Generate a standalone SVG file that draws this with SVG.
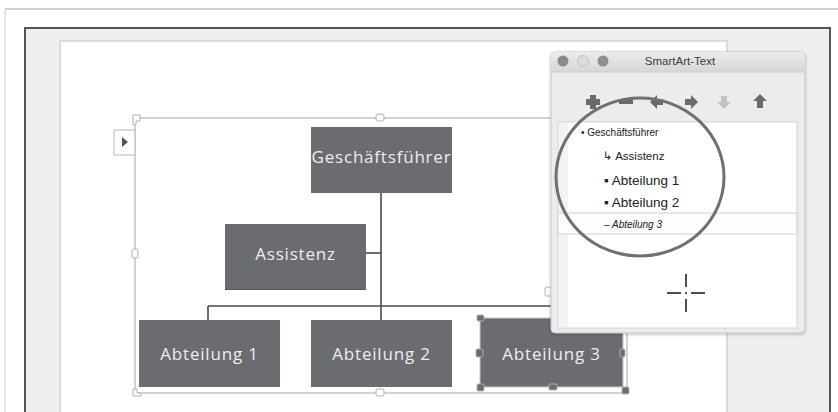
<svg xmlns="http://www.w3.org/2000/svg" width="838" height="412" viewBox="0 0 838 412">
<defs>
<style>
.node rect{fill:#6b6c70}
.node text{fill:#eeeeee;font-family:"Open Sans","Noto Sans",sans-serif;font-size:17px;letter-spacing:0.8px;text-anchor:middle;dominant-baseline:central}
.conn line{stroke:#4a4a4a;stroke-width:1.6}
.sel{fill:none;stroke:#c4c4c4;stroke-width:1.5}
.list{font-family:"Liberation Sans","DejaVu Sans",sans-serif;fill:#222}
.icon{fill:#6a6a6a}
</style>
<linearGradient id="tb" x1="0" y1="0" x2="0" y2="1">
<stop offset="0" stop-color="#ececec"/><stop offset="1" stop-color="#d6d6d6"/>
</linearGradient>
<filter id="sh" x="-5%" y="-5%" width="110%" height="110%"><feDropShadow dx="0" dy="1" stdDeviation="1.5" flood-color="#000" flood-opacity="0.25"/></filter>
</defs>
<rect width="838" height="412" fill="#ffffff"/>
<line x1="5" y1="9" x2="838" y2="9" stroke="#cfcfcf" stroke-width="2"/>
<line x1="5" y1="9" x2="5" y2="412" stroke="#dcdcdc" stroke-width="1.5"/>
<!-- app frame -->
<rect x="25" y="28" width="805" height="400" fill="#efefef" stroke="#555" stroke-width="2"/>
<rect x="60" y="41" width="667" height="380" fill="#ffffff" stroke="#d2d2d2" stroke-width="1.5"/>
<!-- smartart bounding box -->
<rect x="135" y="118" width="492" height="275" class="sel"/>
<g fill="#fff" stroke="#b0b0b0" stroke-width="1">
<path d="M133 115h7v6h-4v4h-3z"/>
<rect x="376" y="114" width="8" height="7" rx="2"/>
<rect x="132" y="249" width="6" height="9" rx="2"/>
<rect x="376" y="389" width="8" height="7" rx="2"/>
<path d="M133 396v-7h4v4h4v3z"/>
<rect x="545" y="287" width="7" height="9" rx="2"/>
</g>
<path d="M114 130h21v25h-21z" fill="#fff" stroke="#b8b8b8" stroke-width="1"/>
<path d="M122 137l6 5l-6 5z" fill="#555"/>
<!-- connectors -->
<g id="connectors" class="conn">
<line x1="381" y1="193" x2="381" y2="320"/>
<line x1="366" y1="253" x2="381" y2="253"/>
<line x1="208" y1="306" x2="553" y2="306"/>
<line x1="208" y1="306" x2="208" y2="320"/>
<line x1="553" y1="306" x2="553" y2="318"/>
</g>
<g id="n-gf" class="node"><rect x="311" y="127" width="141" height="66"/><text x="381.5" y="156">Geschäftsführer</text></g>
<g id="n-as" class="node"><rect x="225" y="224" width="141" height="66"/><line x1="225" y1="289.5" x2="366" y2="289.5" stroke="#555" stroke-width="1"/><text x="295.5" y="253">Assistenz</text></g>
<g id="n-a1" class="node"><rect x="139" y="320" width="141" height="67"/><text x="209.5" y="353">Abteilung 1</text></g>
<g id="n-a2" class="node"><rect x="311" y="320" width="141" height="67"/><text x="381.5" y="353">Abteilung 2</text></g>
<g id="n-a3" class="node"><rect x="480" y="318" width="143" height="69" stroke="#c8c8c8" stroke-width="1"/><text x="551.5" y="353" fill="#d8d8d8">Abteilung 3</text>
<g fill="#fff" stroke="#b0b0b0" stroke-width="1">
<rect x="477" y="315" width="7" height="6" rx="1.5"/>
<rect x="476" y="349" width="7" height="8" rx="1.5"/>
<rect x="477" y="384" width="7" height="7" rx="1.5"/>
<rect x="549" y="384" width="8" height="6" rx="1"/>
<rect x="620" y="349" width="5" height="8" rx="1.5"/>
<rect x="622" y="387" width="7" height="7" rx="1.5"/>
</g></g>
<!-- SmartArt text window -->
<g id="window" filter="url(#sh)">
<rect x="551" y="52" width="254" height="281" rx="4" fill="#ececec" stroke="#c6c6c6" stroke-width="1"/>
</g>
<path d="M551 72v-16a4 4 0 0 1 4-4h246a4 4 0 0 1 4 4v16z" fill="url(#tb)"/>
<line x1="551" y1="72" x2="805" y2="72" stroke="#cfcfcf"/>
<circle cx="563" cy="61" r="5.5" fill="#8a8a8a"/>
<circle cx="583" cy="61" r="5.5" fill="#dcdcdc" stroke="#c4c4c4"/>
<circle cx="603" cy="61" r="5.5" fill="#8f8f8f"/>
<text x="680" y="65" font-family="'Liberation Sans',sans-serif" font-size="11.5" fill="#3a3a3a" text-anchor="middle">SmartArt-Text</text>
<!-- toolbar icons -->
<path class="icon" d="M590 95h6v4h4v6h-4v4h-6v-4h-4v-6h4z"/>
<rect class="icon" x="619" y="99" width="14" height="5"/>
<path class="icon" d="M650 102l7-7v4h6v6h-6v4z"/>
<path class="icon" d="M698 102l-7-7v4h-6v6h6v4z"/>
<path d="M724 109l-7-7h4v-6h6v6h4z" fill="#c2c2c2"/>
<path class="icon" d="M760 94l7 7h-4v7h-6v-7h-4z"/>
<!-- list panel -->
<rect x="558" y="122" width="239" height="206" fill="#ffffff" stroke="#d4d4d4"/>
<rect x="559" y="123" width="9" height="204" fill="#f3f3f3"/>
<rect x="558" y="213" width="239" height="21" fill="#fdfdfd" stroke="#cfcfcf"/>
<g class="list">
<text x="581" y="136" font-size="10">• Geschäftsführer</text>
<text x="603" y="160" font-size="11.5">↳ Assistenz</text>
<text x="604" y="185" font-size="13.5">▪ Abteilung 1</text>
<text x="604" y="207" font-size="13.5">▪ Abteilung 2</text>
<text x="604" y="228" font-size="10" font-style="italic">– Abteilung 3</text>
</g>
<ellipse cx="640" cy="177" rx="84" ry="79" fill="none" stroke="#707070" stroke-width="3"/>
<!-- cursor -->
<g stroke="#222" stroke-width="1.6">
<line x1="667" y1="293" x2="681" y2="293"/>
<line x1="691" y1="293" x2="705" y2="293"/>
<line x1="686" y1="274" x2="686" y2="287"/>
<line x1="686" y1="299" x2="686" y2="312"/>
</g>
<circle cx="686" cy="293" r="1" fill="#222"/>
</svg>
